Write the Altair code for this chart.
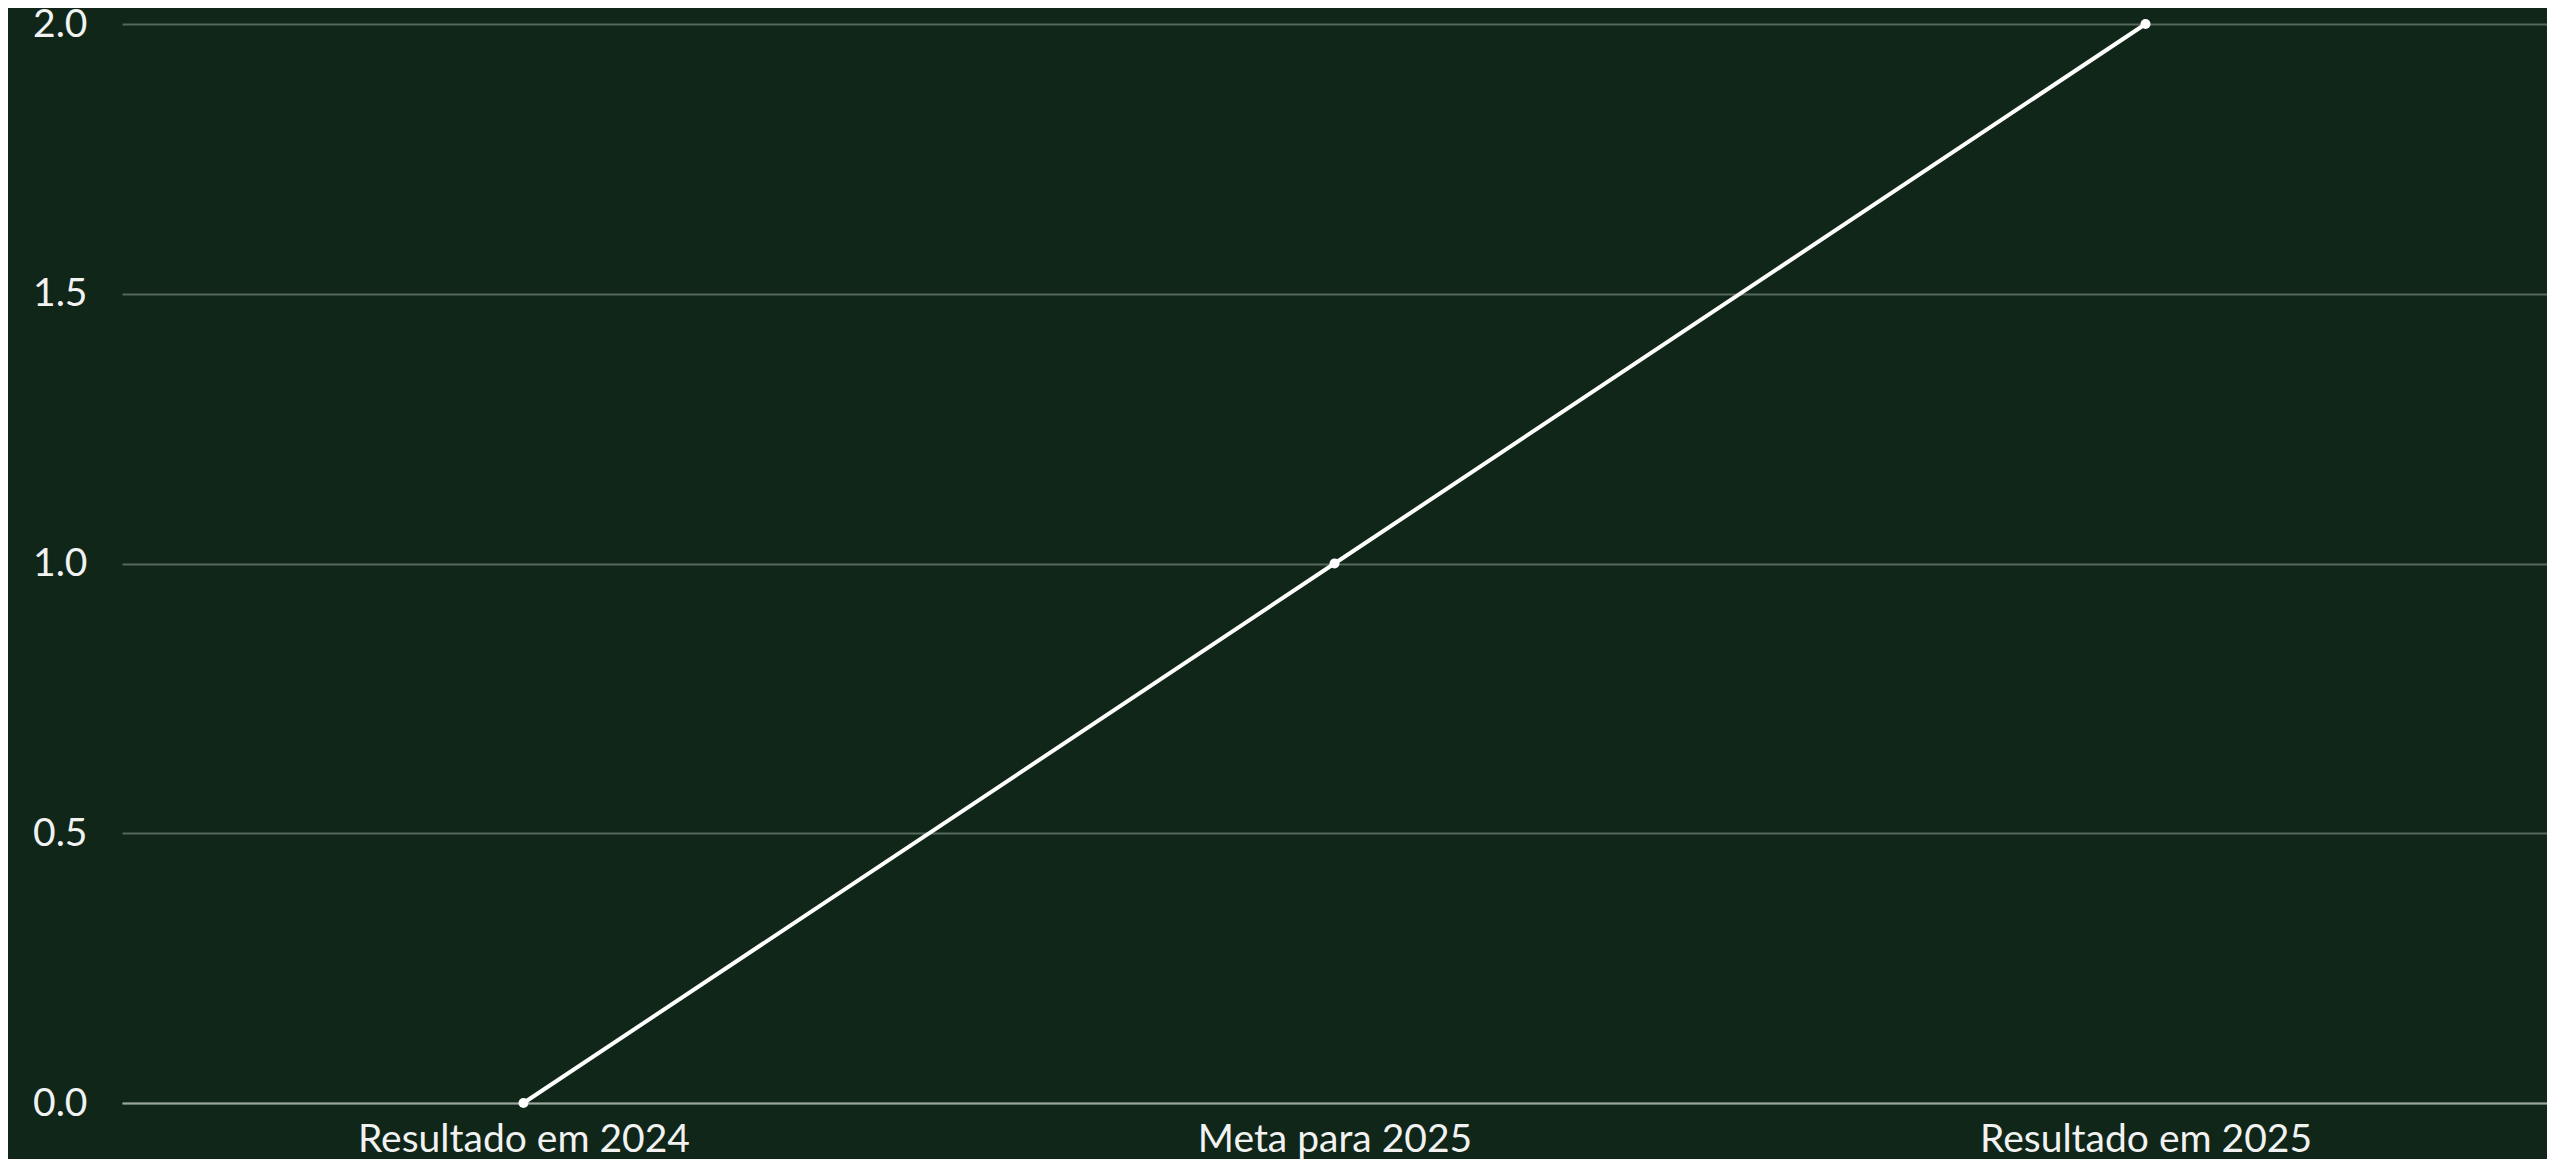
import altair as alt
import pandas as pd

categories = ["Resultado em 2024", "Meta para 2025", "Resultado em 2025"]
values = [0, 1, 2]

df = pd.DataFrame({"cat": categories, "val": values})

BG = "#0f2618"

base = alt.Chart(df).encode(
    x=alt.X("cat:N", sort=categories, title=None,
            scale=alt.Scale(type="point", padding=0.495),
            axis=alt.Axis(labelAngle=0, ticks=False, grid=False, domain=True,
                          domainColor="#9aa69c", domainWidth=2,
                          labelFont="Lato", labelFontSize=39, labelColor="#f2f2f2",
                          labelPadding=17, labelLimit=0)),
    y=alt.Y("val:Q", title=None,
            scale=alt.Scale(domain=[0, 2], nice=False),
            axis=alt.Axis(values=[0, 0.5, 1, 1.5, 2], format=".1f", ticks=False,
                          domain=False, grid=True, gridColor="#56695a", gridWidth=2,
                          labelFont="Lato", labelFontSize=39, labelColor="#f2f2f2",
                          labelPadding=35)),
)

line = base.mark_line(color="white", strokeWidth=4)
pts = base.mark_point(color="white", filled=True, opacity=1, size=100)

chart = (line + pts).properties(
    width=2425, height=1079,
    background=BG,
    padding={"left": 114, "top": 16, "right": 0, "bottom": 56},
    autosize=alt.AutoSizeParams(type="none"),
).configure_view(stroke=None)

chart.save("out.html", embed_options={"renderer": "svg", "actions": False})
